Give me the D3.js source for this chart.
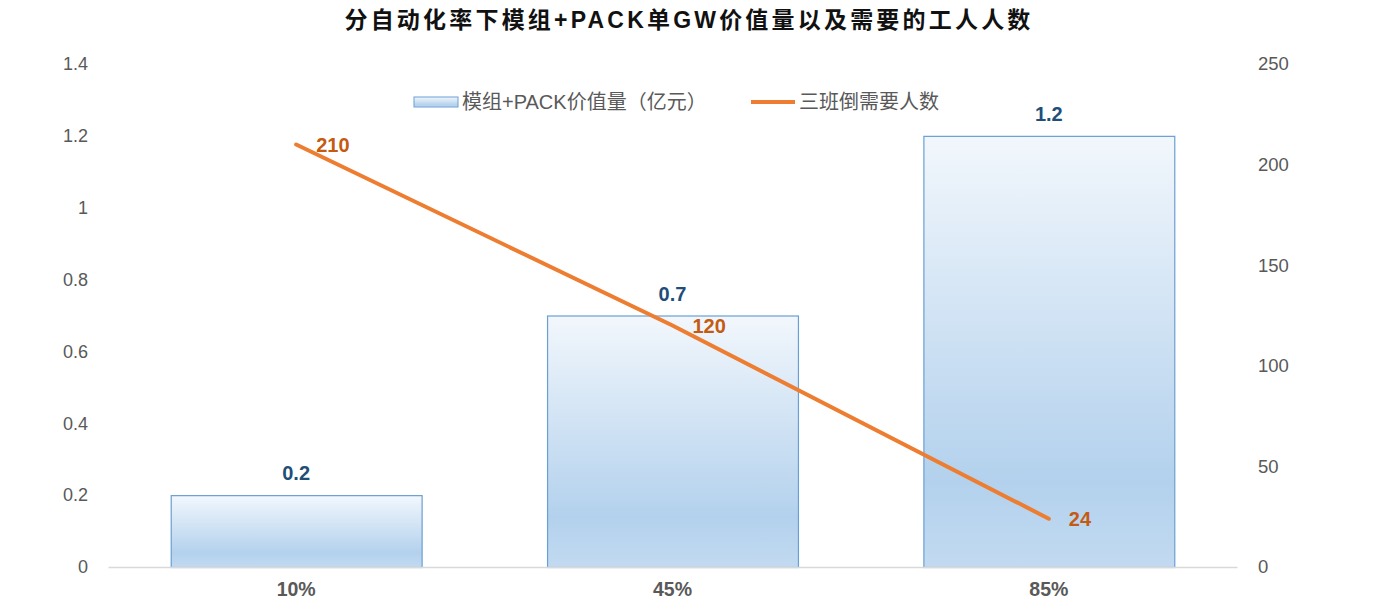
<!DOCTYPE html>
<html>
<head>
<meta charset="utf-8">
<script src="https://cdn.jsdelivr.net/npm/d3@7"></script>
<style>
  html, body { margin: 0; padding: 0; background: #fff; }
  svg { display: block; }
  text { font-family: "Liberation Sans", Arial, "Noto Sans CJK SC", sans-serif; }
</style>
</head>
<body>
<div id="chart"></div>
<script>
// Module + PACK value per GW vs. workers needed, by automation rate.

const categories = ['10%', '45%', '85%'];
const packValue = [0.2, 0.7, 1.2];        // 亿元, left axis
const workers = [210, 120, 24];           // 三班倒需要人数, right axis
const leftTicks = [0, 0.2, 0.4, 0.6, 0.8, 1, 1.2, 1.4];
const rightTicks = [0, 50, 100, 150, 200, 250];
const seriesNames = ['模组+PACK价值量（亿元）', '三班倒需要人数'];
const title = '分自动化率下模组+PACK单GW价值量以及需要的工人人数';

const W = 1398, H = 612;
const margin = { top: 64, right: 161, bottom: 45, left: 108 };
const innerW = W - margin.left - margin.right;
const innerH = H - margin.top - margin.bottom;

const svg = d3.select('#chart').append('svg')
  .attr('width', W).attr('height', H)
  .attr('viewBox', `0 0 ${W} ${H}`);

const defs = svg.append('defs');
const grad = defs.append('linearGradient')
  .attr('id', 'barGrad').attr('x1', 0).attr('y1', 0).attr('x2', 0).attr('y2', 1);
grad.append('stop').attr('offset', '0%').attr('stop-color', '#f2f7fc');
grad.append('stop').attr('offset', '80%').attr('stop-color', '#b3d1ed');
grad.append('stop').attr('offset', '100%').attr('stop-color', '#c2daf1');

const x = d3.scaleBand().domain(categories).range([0, innerW]).paddingInner(1 / 3).paddingOuter(1 / 6);
const yL = d3.scaleLinear().domain([0, 1.4]).range([innerH, 0]);
const yR = d3.scaleLinear().domain([0, 250]).range([innerH, 0]);

const g = svg.append('g').attr('transform', `translate(${margin.left},${margin.top})`);

// title
svg.append('text')
  .attr('x', 689).attr('y', 28)
  .attr('text-anchor', 'middle')
  .attr('font-family', '"Noto Sans CJK SC", sans-serif')
  .attr('font-weight', 700)
  .attr('font-size', 23)
  .attr('letter-spacing', 3.2)
  .attr('fill', '#111')
  .text(title);

// left axis
const axL = g.append('g').call(d3.axisLeft(yL).tickValues(leftTicks).tickSize(0).tickPadding(20)
  .tickFormat(d => d3.format('~g')(d)));
axL.select('.domain').remove();
axL.selectAll('text').attr('font-size', 18).attr('fill', '#595959');

// right axis
const axR = g.append('g').attr('transform', `translate(${innerW},0)`)
  .call(d3.axisRight(yR).tickValues(rightTicks).tickSize(0).tickPadding(21));
axR.select('.domain').remove();
axR.selectAll('text').attr('font-size', 18.5).attr('fill', '#595959');

// bars
g.selectAll('rect.bar').data(packValue).join('rect')
  .attr('class', 'bar')
  .attr('x', (d, i) => x(categories[i]) + 0.5)
  .attr('y', d => yL(d) + 0.5)
  .attr('width', x.bandwidth())
  .attr('height', d => innerH - yL(d))
  .attr('fill', 'url(#barGrad)')
  .attr('stroke', '#6a9fd3')
  .attr('stroke-width', 1.2);

// x axis
const axX = g.append('g').attr('transform', `translate(0,${innerH})`)
  .call(d3.axisBottom(x).tickSize(0).tickPadding(15));
axX.select('.domain').attr('stroke', '#d9d9d9').attr('stroke-width', 1.5);
axX.selectAll('text').attr('font-size', 19.5).attr('font-weight', 700).attr('fill', '#595959');

// bar labels
g.selectAll('text.bl').data(packValue).join('text')
  .attr('class', 'bl')
  .attr('x', (d, i) => x(categories[i]) + x.bandwidth() / 2)
  .attr('y', d => yL(d) - 15)
  .attr('text-anchor', 'middle')
  .attr('font-size', 20).attr('font-weight', 700)
  .attr('fill', '#1f4e79')
  .text(d => d);

// line
const line = d3.line()
  .x((d, i) => x(categories[i]) + x.bandwidth() / 2)
  .y(d => yR(d));
g.append('path').datum(workers)
  .attr('d', line)
  .attr('fill', 'none')
  .attr('stroke', '#ed7d31')
  .attr('stroke-width', 4)
  .attr('stroke-linecap', 'round');

g.selectAll('text.ll').data(workers).join('text')
  .attr('class', 'll')
  .attr('x', (d, i) => x(categories[i]) + x.bandwidth() / 2 + 20)
  .attr('y', d => yR(d))
  .attr('dy', '0.36em')
  .attr('font-size', 20).attr('font-weight', 700)
  .attr('fill', '#c55a11')
  .text(d => d);

// legend
const leg = svg.append('g');
leg.append('rect')
  .attr('x', 414).attr('y', 97).attr('width', 44).attr('height', 10)
  .attr('fill', 'url(#barGrad)').attr('stroke', '#6a9fd3').attr('stroke-width', 1);
leg.append('text')
  .attr('x', 462).attr('y', 102).attr('dy', '0.35em')
  .attr('font-size', 20).attr('fill', '#595959')
  .text(seriesNames[0]);
leg.append('line')
  .attr('x1', 751).attr('x2', 795).attr('y1', 102).attr('y2', 102)
  .attr('stroke', '#ed7d31').attr('stroke-width', 4);
leg.append('text')
  .attr('x', 799).attr('y', 102).attr('dy', '0.35em')
  .attr('font-size', 20).attr('fill', '#595959')
  .text(seriesNames[1]);
</script>
</body>
</html>
